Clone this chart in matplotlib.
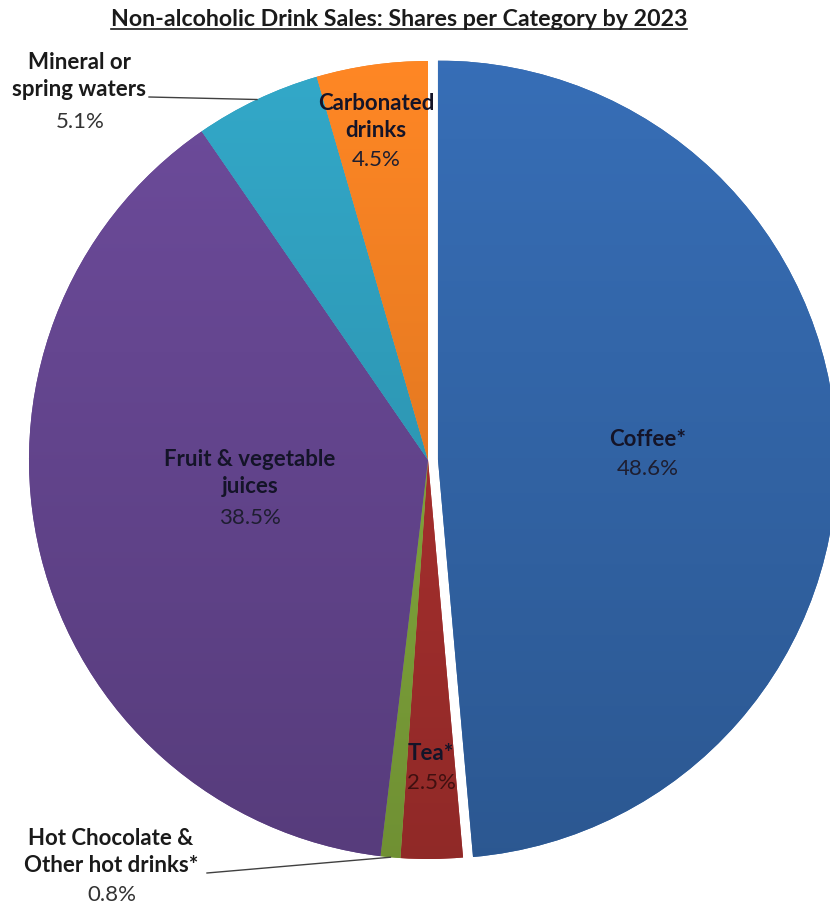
import numpy as np
import matplotlib
matplotlib.use("Agg")
import matplotlib.pyplot as plt
from matplotlib.colors import to_rgb

# ---------------- data ----------------
categories = ["Coffee*", "Tea*", "Hot Chocolate &\nOther hot drinks*",
              "Fruit & vegetable\njuices", "Mineral or\nspring waters",
              "Carbonated\ndrinks"]
shares = [48.6, 2.5, 0.8, 38.5, 5.1, 4.5]
colors = ["#3366A9", "#A8302E", "#82A83C", "#654690", "#2F9CBA", "#EC7D22"]
explode_frac = [0.025, 0, 0, 0, 0, 0]
title = "Non-alcoholic Drink Sales: Shares per Category by 2023"

W, H = 830, 909
plt.rcParams['font.family'] = ['Lato', 'DejaVu Sans']

fig = plt.figure(figsize=(W / 100, H / 100), dpi=100)
ax = fig.add_axes([0, 0, 1, 1])

cx, cy, R = 428, 460, 399
wedges, _ = ax.pie(shares, colors=colors, startangle=90, counterclock=False,
                   explode=[e * R for e in explode_frac], center=(cx, -cy),
                   radius=R, wedgeprops=dict(linewidth=0))
ax.set_xlim(0, W)
ax.set_ylim(-H, 0)
ax.set_aspect('equal')
ax.axis('off')

# subtle vertical gradient on each wedge (Excel-like look)
grad = np.linspace(1.08, 0.86, 256)[:, None]
for w, c in zip(wedges, colors):
    rgb = np.array(to_rgb(c))
    img = np.clip(grad[:, :, None] * rgb[None, None, :], 0, 1)
    img = np.repeat(img, 2, axis=1)
    im = ax.imshow(img, extent=(cx - R - 30, cx + R + 30, -cy - R, -cy + R),
                   aspect='auto', zorder=w.get_zorder() + 0.1,
                   interpolation='bilinear')
    im.set_clip_path(w)
ax.set_xlim(0, W)
ax.set_ylim(-H, 0)

FS = 16
lab_kw = dict(ha='center', va='center', fontsize=FS, fontweight='bold',
              color='#141428', zorder=10, linespacing=1.3)
pct_kw = dict(ha='center', va='center', fontsize=FS, color='#1e1e30', zorder=10)

def P(x, y):
    return (x, -y)

# inside labels
ax.text(*P(648, 440), categories[0], **lab_kw)
ax.text(*P(648, 469), f"{shares[0]}%", **pct_kw)
ax.text(*P(431, 753), categories[1], **lab_kw)
ax.text(*P(431, 783), f"{shares[1]}%", **dict(pct_kw, color='#401010'))
ax.text(*P(250, 473), categories[3], **lab_kw)
ax.text(*P(250, 518), f"{shares[3]}%", **pct_kw)
ax.text(*P(376, 117), categories[5], **lab_kw)
ax.text(*P(376, 160), f"{shares[5]}%", **pct_kw)

# outside labels
ax.text(*P(79, 76), categories[4], **dict(lab_kw, color='#1a1a1a'))
ax.text(*P(80, 122), f"{shares[4]}%", **dict(pct_kw, color='#333333'))
ax.text(*P(111, 852), categories[2], **dict(lab_kw, color='#1a1a1a'))
ax.text(*P(112, 895), f"{shares[2]}%", **dict(pct_kw, color='#333333'))

# leader lines to the wedges' outer edge at their mid-angle
cum = np.cumsum([0] + shares)
def edge_point(i):
    a = np.deg2rad(90 - 360 * (cum[i] + cum[i + 1]) / 2 / 100)
    return (cx + R * np.cos(a), -cy + R * np.sin(a))

ax.plot([149, edge_point(4)[0]], [-97, edge_point(4)[1]], color='#404040', lw=1.0, zorder=11)
ax.plot([207, edge_point(2)[0]], [-873, edge_point(2)[1]], color='#404040', lw=1.0, zorder=11)

# underlined title
t = ax.text(*P(399, 19), title, ha='center', va='center', fontsize=16.7,
            fontweight='bold', color='#1a1a1a', zorder=12)
fig.canvas.draw()
bb = t.get_window_extent(renderer=fig.canvas.get_renderer())
inv = ax.transData.inverted()
(x0, y0), (x1, y1) = inv.transform([[bb.x0, bb.y0], [bb.x1, bb.y1]])
ax.plot([x0, x1], [y0 + 1, y0 + 1], color='#1a1a1a', lw=1.2, zorder=12)

fig.savefig("out.png", dpi=100)
